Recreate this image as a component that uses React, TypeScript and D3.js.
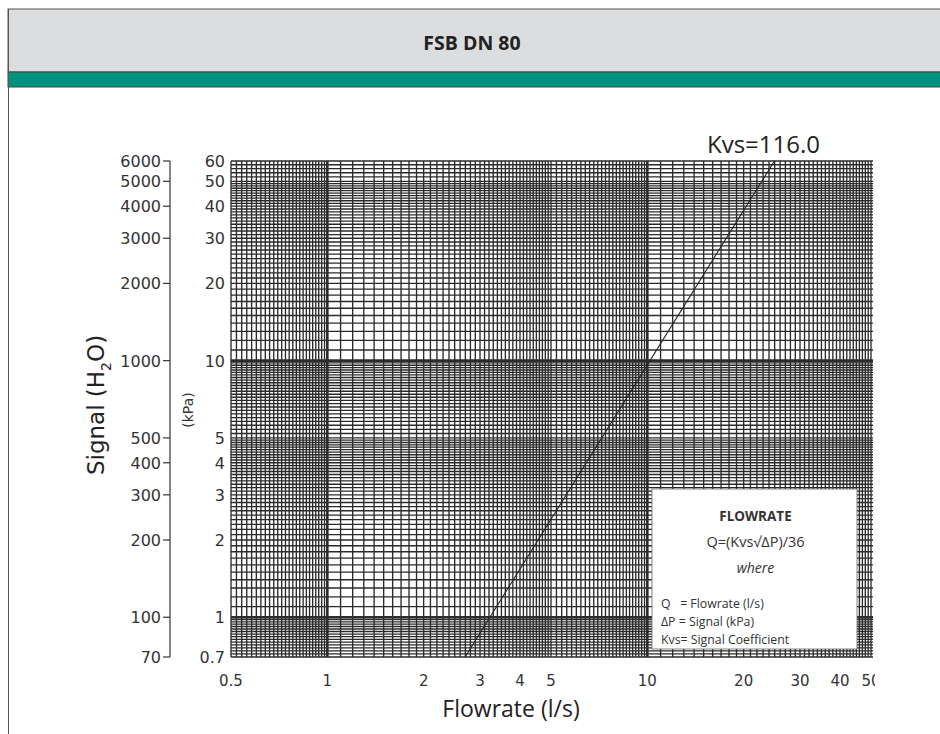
import React from "react";
import * as d3 from "d3";

const title = "FSB DN 80";
const kvs = 116.0;
const signalPoints = [0.7, 60]; // kPa, ends of the Kvs line
const flowTicks = [0.5, 1, 2, 3, 4, 5, 10, 20, 30, 40, 50];
const kpaTicks = [0.7, 1, 2, 3, 4, 5, 10, 20, 30, 40, 50, 60];
const h2oTicks = [70, 100, 200, 300, 400, 500, 1000, 2000, 3000, 4000, 5000, 6000];
// graph paper subdivisions inside a decade: [from, to, step]
const gridSteps = [
  [1, 2, 0.1],
  [2, 5, 0.1],
  [5, 10, 0.2],
];
const decades = [0.1, 1, 10, 100];
const majorLines = [1, 10];
const legendLines = ["Q   = Flowrate (l/s)", "ΔP = Signal (kPa)", "Kvs= Signal Coefficient"];

const W = 940;
const H = 734;
const plot = { left: 231, right: 871, top: 161, bottom: 657 };

function gridValues(lo: number, hi: number) {
  const out: number[] = [];
  decades.forEach((d) => {
    gridSteps.forEach(([a, b, s]) => {
      d3.range(a, b - 1e-9, s).forEach((k) => {
        const v = +(k * d).toFixed(6);
        if (v >= lo - 1e-9 && v <= hi + 1e-9) out.push(v);
      });
    });
  });
  return out;
}

export default function App() {
  const x = d3.scaleLog().domain([0.5, 50]).range([plot.left, plot.right]);
  const y = d3.scaleLog().domain([0.7, 60]).range([plot.bottom, plot.top]);
  const yH2O = d3.scaleLog().domain([70, 6000]).range([plot.bottom, plot.top]);

  const xGrid = gridValues(0.5, 50);
  const yGrid = gridValues(0.7, 60);

  const flow = (dp: number) => (kvs * Math.sqrt(dp)) / 36;
  const line = d3
    .line<number>()
    .x((dp) => x(flow(dp)))
    .y((dp) => y(dp));

  const gridColor = "#2b2b2b";
  const tickFont = "'DejaVu Sans', Arial, sans-serif";
  const textFont = "'Open Sans', 'Noto Sans', sans-serif";

  const lx = 652;
  const ly = 489;
  const lw = 205;
  const lh = 160;

  return (
    <svg
      width={W}
      height={H}
      style={{ position: "absolute", left: 0, top: 0, background: "#fff" }}
    >
      {/* header */}
      <rect x={8} y={9} width={W} height={63} fill="#dcdddf" stroke="#555" strokeWidth={1} />
      <rect x={8} y={72} width={W} height={15} fill="#00927f" stroke="#444" strokeWidth={1} />
      <line x1={8.5} y1={9} x2={8.5} y2={H} stroke="#555" strokeWidth={1} />
      <text
        x={472}
        y={50}
        textAnchor="middle"
        fontFamily={textFont}
        fontWeight={700}
        fontSize={19.5}
        fill="#222"
      >
        {title}
      </text>

      {/* graph paper */}
      <g stroke={gridColor} fill="none">
        {xGrid.map((v, i) => (
          <line
            key={"x" + i}
            x1={x(v)}
            x2={x(v)}
            y1={plot.top}
            y2={plot.bottom}
            strokeWidth={majorLines.includes(v) ? 2.6 : 1.35}
          />
        ))}
        {yGrid.map((v, i) => (
          <line
            key={"y" + i}
            x1={plot.left}
            x2={plot.right + 2}
            y1={y(v)}
            y2={y(v)}
            strokeWidth={majorLines.includes(v) ? 2.6 : 1.35}
          />
        ))}
      </g>

      {/* Kvs line */}
      <path d={line(signalPoints) || ""} stroke="#222" strokeWidth={1.1} fill="none" />
      <text x={707} y={153} fontFamily={textFont} fontSize={24} fill="#222">
        Kvs={kvs.toFixed(1)}
      </text>

      {/* legend box */}
      <rect x={lx} y={ly} width={lw} height={lh} fill="#fff" stroke="#666" strokeWidth={0.8} />
      <g fontFamily={textFont} fill="#333">
        <text x={lx + lw / 2 + 1} y={ly + 32} textAnchor="middle" fontWeight={700} fontSize={13.5}>
          FLOWRATE
        </text>
        <text x={lx + lw / 2 + 1} y={ly + 58} textAnchor="middle" fontSize={14.5}>
          Q=(Kvs√ΔP)/36
        </text>
        <text x={lx + lw / 2 + 1} y={ly + 84} textAnchor="middle" fontStyle="italic" fontSize={14}>
          where
        </text>
        {legendLines.map((t, i) => (
          <text key={t} x={lx + 9} y={ly + 119 + i * 18} fontSize={12.3} style={{ whiteSpace: "pre" }}>
            {t}
          </text>
        ))}
      </g>

      {/* kPa labels */}
      <g fontFamily={tickFont} fontSize={16} fill="#333" textAnchor="end">
        {kpaTicks.map((t) => (
          <text key={t} x={225} y={y(t) + 6}>
            {t}
          </text>
        ))}
      </g>

      {/* H2O axis */}
      <line x1={170} x2={170} y1={plot.top} y2={plot.bottom} stroke="#333" strokeWidth={1.2} />
      <g fontFamily={tickFont} fontSize={16} fill="#333" textAnchor="end">
        {h2oTicks.map((t) => (
          <g key={t}>
            <line x1={163} x2={170} y1={yH2O(t)} y2={yH2O(t)} stroke="#333" strokeWidth={1.2} />
            <text x={161} y={yH2O(t) + 6}>
              {t}
            </text>
          </g>
        ))}
      </g>

      {/* x labels */}
      <defs>
        <clipPath id="xclip">
          <rect x={0} y={660} width={875} height={40} />
        </clipPath>
      </defs>
      <g fontFamily={tickFont} fontSize={15} fill="#333" textAnchor="middle" clipPath="url(#xclip)">
        {flowTicks.map((t) => (
          <text key={t} x={x(t)} y={686}>
            {t}
          </text>
        ))}
      </g>

      {/* axis titles */}
      <text
        x={511}
        y={717}
        textAnchor="middle"
        fontFamily={textFont}
        fontSize={23}
        fill="#222"
      >
        Flowrate (l/s)
      </text>
      <text
        transform="translate(104,405) rotate(-90)"
        textAnchor="middle"
        fontFamily={tickFont}
        fontSize={23}
        fill="#222"
      >
        Signal (H
        <tspan fontSize={14} dy={7}>
          2
        </tspan>
        <tspan dy={-7}>O)</tspan>
      </text>
      <text
        transform="translate(193,410) rotate(-90)"
        textAnchor="middle"
        fontFamily={tickFont}
        fontSize={14}
        fill="#333"
      >
        (kPa)
      </text>
    </svg>
  );
}
